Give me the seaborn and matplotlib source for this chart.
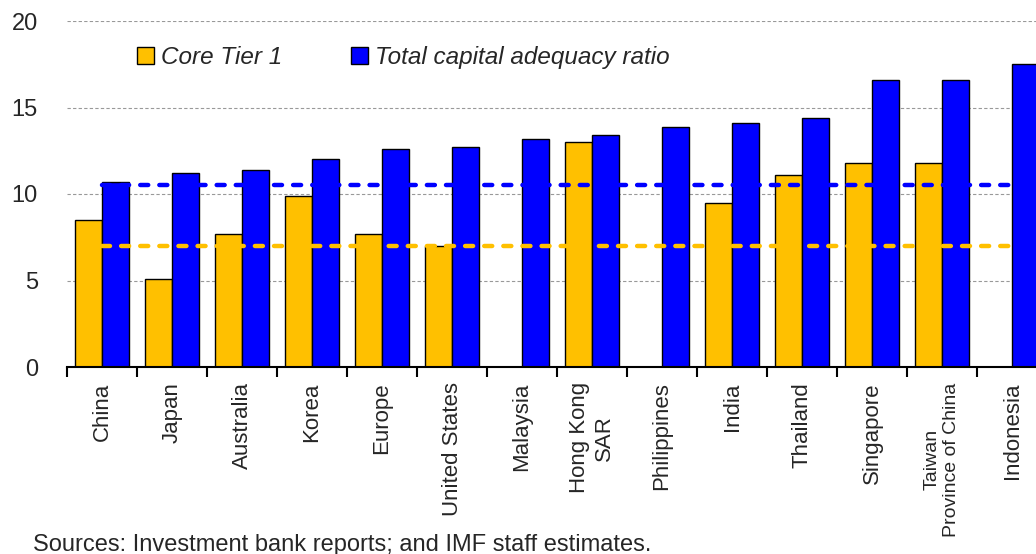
import numpy as np
import pandas as pd
import seaborn as sns
import matplotlib.pyplot as plt
from matplotlib.patches import Patch

countries = ["China", "Japan", "Australia", "Korea", "Europe", "United States",
             "Malaysia", "Hong Kong\nSAR", "Philippines", "India", "Thailand",
             "Singapore", "Taiwan\nProvince of China", "Indonesia"]
core_tier1 = [8.5, 5.1, 7.7, 9.9, 7.7, 7.0, np.nan, 13.0, np.nan, 9.5, 11.1, 11.8, 11.8, np.nan]
total_car = [10.7, 11.2, 11.4, 12.0, 12.6, 12.7, 13.2, 13.4, 13.9, 14.1, 14.4, 16.6, 16.6, 17.5]
series_names = ["Core Tier 1", "Total capital adequacy ratio"]
core_min = 7.0
total_min = 10.5

yellow = "#FFC000"
blue = "#0000FF"

df = pd.DataFrame({
    "country": countries * 2,
    "value": core_tier1 + total_car,
    "series": [series_names[0]] * len(countries) + [series_names[1]] * len(countries),
})

sns.set_style("white")
plt.rcParams["font.family"] = ["Liberation Sans", "DejaVu Sans"]

fig = plt.figure(figsize=(10.36, 5.54), dpi=100)
ax = fig.add_axes([67 / 1036, 1 - 367 / 554, 980 / 1036, 346 / 554])

sns.barplot(data=df, x="country", y="value", hue="series", order=countries,
            hue_order=series_names, palette=[yellow, blue], saturation=1,
            width=0.76, edgecolor="black", linewidth=1.0, legend=False,
            ax=ax, zorder=2)

# minimum requirement lines
n = len(countries)
ax.plot([0, n - 1], [total_min, total_min], color=blue, lw=3.2,
        dashes=(1.8, 2.5), dash_capstyle="round", zorder=4)
ax.plot([0, n - 1], [core_min, core_min], color=yellow, lw=3.2,
        dashes=(1.8, 2.5), dash_capstyle="round", zorder=4)

ax.set_xlim(-0.5, n - 0.5)
ax.set_ylim(0, 20)
ax.set_yticks([0, 5, 10, 15, 20])
ax.yaxis.grid(True, color="#999999", linestyle=(0, (3, 2)), linewidth=0.8, zorder=0)
ax.set_axisbelow(True)
for s in ["left", "right", "top"]:
    ax.spines[s].set_visible(False)
ax.spines["bottom"].set_color("black")
ax.spines["bottom"].set_linewidth(1.5)
ax.spines["bottom"].set_zorder(5)

ax.set_xlabel("")
ax.set_ylabel("")
ax.tick_params(axis="y", length=0, pad=21, labelsize=17)
ax.set_xticks(range(n))
ax.set_xticklabels(countries, rotation=90, fontsize=16, va="top", ha="center",
                   multialignment="center")
# the two-line Taiwan label is long, keep it inside the figure
ax.get_xticklabels()[12].set_fontsize(14)
ax.tick_params(axis="x", which="major", length=0, pad=11)
ax.set_xticks(np.arange(-0.5, n, 1), minor=True)
ax.tick_params(axis="x", which="minor", length=7, width=1.5, color="black",
               direction="out", bottom=True)

handles = [Patch(facecolor=yellow, edgecolor="black", lw=1),
           Patch(facecolor=blue, edgecolor="black", lw=1)]
ax.legend(handles, series_names, loc="upper left", bbox_to_anchor=(0.049, 0.99),
          ncol=2, frameon=False, handlelength=0.7, handleheight=0.7,
          handletextpad=0.3, columnspacing=2.8,
          prop={"size": 17.5, "style": "italic"})

fig.text(33 / 1036, 1 - 545 / 554, "Sources: Investment bank reports; and IMF staff estimates.",
         fontsize=17, va="center", ha="left")

fig.savefig("out.png", dpi=100)
